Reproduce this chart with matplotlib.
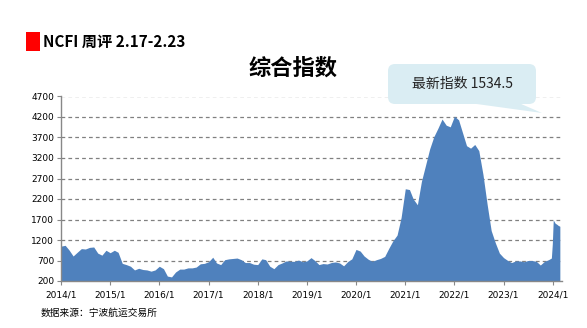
import numpy as np
import pandas as pd
import matplotlib
matplotlib.use("Agg")
import matplotlib.pyplot as plt
from matplotlib.patches import FancyBboxPatch, Polygon, Rectangle

plt.rcParams['font.family'] = ['Noto Sans CJK SC', 'DejaVu Sans']

# NCFI composite index, monthly readings 2014/1 .. 2023/12
ncfi_2014 = [1050, 1070, 960, 810, 900, 990, 980, 1020, 1030, 880, 830, 950]
ncfi_2015 = [890, 950, 900, 630, 600, 560, 470, 510, 480, 470, 440, 470]
ncfi_2016 = [560, 500, 320, 300, 420, 490, 490, 520, 520, 540, 620, 630]
ncfi_2017 = [670, 780, 640, 600, 720, 740, 750, 760, 720, 650, 650, 610]
ncfi_2018 = [600, 740, 720, 560, 500, 600, 640, 690, 680, 680, 710, 670]
ncfi_2019 = [690, 770, 700, 600, 625, 615, 650, 665, 640, 570, 675, 740]
ncfi_2020 = [970, 930, 810, 730, 680, 720, 750, 800, 1000, 1180, 1320, 1750]
ncfi_2021 = [2450, 2430, 2200, 2060, 2630, 3030, 3420, 3720, 3930, 4150, 4000, 3960]
ncfi_2022 = [4220, 4130, 3830, 3500, 3440, 3530, 3380, 2800, 2070, 1430, 1130, 880]
ncfi_2023 = [770, 700, 650, 690, 690, 670, 700, 700, 680, 590, 680, 720]

# weekly readings at the end of the series
tail_dates = ['2023-12-22', '2023-12-29', '2024-01-05', '2024-01-12', '2024-01-19',
              '2024-02-02', '2024-02-09', '2024-02-23']
tail_values = [760, 1100, 1690, 1650, 1610, 1580, 1560, 1534.5]

latest = tail_values[-1]

years = list(range(2014, 2025))
year_labels = [f'{y}/1' for y in years]
y_ticks = list(range(200, 4701, 500))

monthly = (ncfi_2014 + ncfi_2015 + ncfi_2016 + ncfi_2017 + ncfi_2018 +
           ncfi_2019 + ncfi_2020 + ncfi_2021 + ncfi_2022 + ncfi_2023)
dates = list(pd.date_range('2014-01-01', periods=len(monthly), freq='MS'))
dates += list(pd.to_datetime(tail_dates))
values = np.array(monthly + tail_values, dtype=float)

W, H = 587, 328
fig = plt.figure(figsize=(W / 100, H / 100), dpi=100)
fig.patch.set_facecolor('white')

ax = fig.add_axes([61 / W, 1 - 281 / H, (562 - 61) / W, (281 - 96.5) / H])
ax.fill_between(dates, 200, values, color='#4F81BD', lw=0)
ax.set_ylim(200, 4700)
ax.set_xlim(pd.Timestamp('2014-01-01'), pd.Timestamp('2024-03-10'))
ax.set_yticks(y_ticks)
ax.set_yticklabels([str(t) for t in y_ticks])
ax.set_xticks([pd.Timestamp(f'{y}-01-01') for y in years])
ax.set_xticklabels(year_labels)
ax.tick_params(axis='both', labelsize=6.5, length=3, width=0.8, color='#888888',
               labelcolor='black', pad=2)
for lab in ax.get_xticklabels() + ax.get_yticklabels():
    lab.set_family('DejaVu Sans')
ax.tick_params(axis='x', pad=4)
for y in y_ticks[1:]:
    ax.axhline(y, color='#808080', lw=0.9, ls=(0, (3, 2.5)), zorder=0)
for s in ['top', 'right']:
    ax.spines[s].set_visible(False)
for s in ['left', 'bottom']:
    ax.spines[s].set_color('#888888')
    ax.spines[s].set_linewidth(1)
ax.set_facecolor('none')

# overlay in pixel units for header, title and callout
ov = fig.add_axes([0, 0, 1, 1], zorder=5)
ov.set_xlim(0, W)
ov.set_ylim(H, 0)
ov.axis('off')
ov.patch.set_alpha(0)

ov.add_patch(Rectangle((26, 32), 14, 19, color='#FF0000', lw=0))
ov.text(43, 41.5, 'NCFI 周评 2.17-2.23', fontsize=11, fontweight='bold',
        va='center', ha='left', color='black')
ov.text(293, 68, '综合指数', fontsize=16, fontweight='bold',
        va='center', ha='center', color='black')

box_col = '#DAEDF3'
ov.add_patch(FancyBboxPatch((388, 64), 148, 40,
                            boxstyle='round,pad=0,rounding_size=7',
                            fc=box_col, ec='none'))
ov.add_patch(Polygon([(473, 103.5), (542, 113), (520, 103.5)], closed=True,
                     fc=box_col, ec='none'))
ov.text(462, 84, f'最新指数 {latest:.1f}', fontsize=10, va='center', ha='center',
        color='#222222')

ov.text(41, 313, '数据来源：宁波航运交易所', fontsize=7, va='center', ha='left',
        color='black')

fig.savefig('out.png', dpi=100)
